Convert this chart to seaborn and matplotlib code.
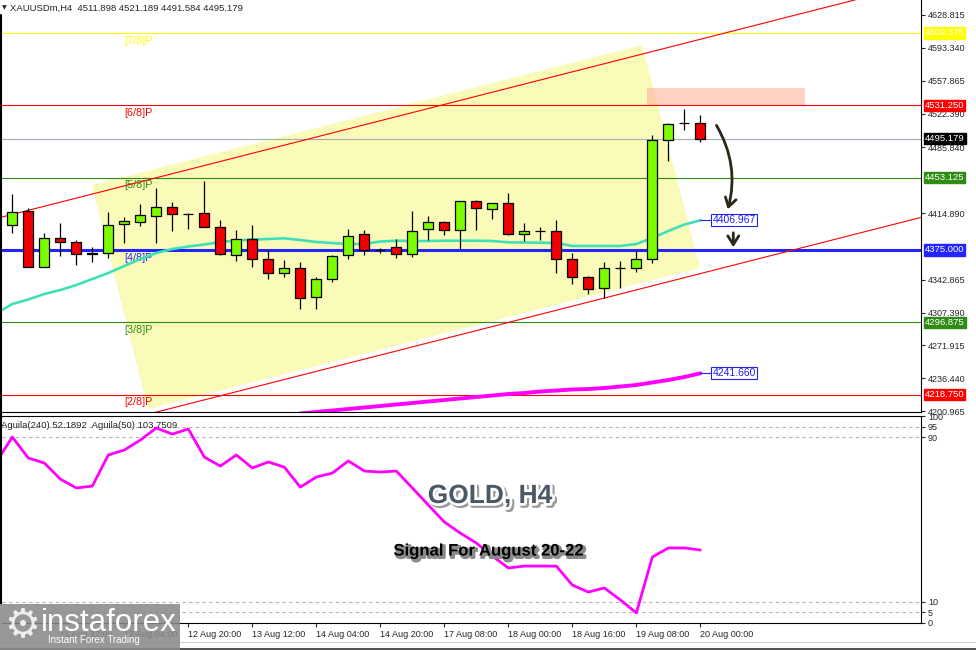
import numpy as np
import matplotlib
matplotlib.use("Agg")
import matplotlib.pyplot as plt
import matplotlib.patheffects as pe
from matplotlib.patches import Polygon, Rectangle, FancyArrowPatch
from matplotlib.lines import Line2D
import seaborn as sns

# ---- data (H4 bars, index 0 = 11 Aug 04:00 ... 43 = 20 Aug 00:00) ----
opens = [4401.93, 4417.06, 4356.88, 4387.56, 4383.24, 4371.60, 4371.35, 4402.69, 4405.50, 4411.98,
         4421.05, 4414.20, 4414.57, 4400.09, 4369.19, 4387.13, 4364.87, 4349.75, 4355.80, 4323.82,
         4343.26, 4369.19, 4391.88, 4375.40, 4378.49, 4370.27, 4397.28, 4404.85, 4396.20, 4427.54,
         4418.89, 4425.37, 4391.88, 4395.30, 4395.12, 4364.87, 4345.43, 4333.54, 4355.30, 4355.15,
         4364.87, 4493.44, 4511.90, 4511.898]
highs = [4435.42, 4420.30, 4393.61, 4403.77, 4385.72, 4377.84, 4415.65, 4410.90, 4424.62, 4441.58,
         4426.46, 4415.00, 4449.47, 4407.33, 4396.53, 4401.93, 4374.92, 4364.12, 4361.63, 4345.43,
         4369.50, 4397.28, 4396.20, 4377.41, 4386.48, 4417.06, 4411.65, 4406.25, 4427.80, 4428.94,
         4425.60, 4436.50, 4403.77, 4399.44, 4407.33, 4371.68, 4346.83, 4361.63, 4363.04, 4374.16,
         4499.17, 4511.81, 4526.93, 4521.189]
lows = [4393.29, 4356.55, 4356.55, 4368.76, 4358.71, 4362.28, 4365.95, 4382.81, 4400.85, 4382.16,
        4395.45, 4397.61, 4399.44, 4369.19, 4363.36, 4356.88, 4343.26, 4346.07, 4310.85, 4310.85,
        4340.67, 4364.87, 4369.84, 4371.35, 4366.60, 4367.68, 4385.72, 4391.45, 4375.68, 4396.53,
        4408.41, 4390.80, 4384.97, 4385.72, 4350.40, 4337.86, 4327.06, 4323.38, 4334.19, 4350.83,
        4361.20, 4471.08, 4504.57, 4491.584]
closes = [4416.30, 4356.88, 4387.56, 4383.24, 4370.27, 4371.10, 4401.93, 4406.25, 4412.73, 4421.05,
          4413.49, 4413.90, 4400.09, 4370.27, 4387.13, 4364.87, 4349.75, 4355.80, 4322.74, 4343.26,
          4368.76, 4390.37, 4375.24, 4375.00, 4370.27, 4395.77, 4404.85, 4396.20, 4427.54, 4419.97,
          4425.37, 4391.88, 4395.12, 4395.00, 4364.87, 4345.43, 4332.78, 4355.15, 4355.00, 4364.87,
          4493.76, 4510.73, 4511.60, 4495.179]

# fast moving average (bars -1..43)
ma_fast = [4306.5, 4316.58, 4321.44, 4327.38, 4331.70, 4337.11, 4343.59, 4350.07, 4357.63, 4365.20,
           4371.68, 4376.00, 4378.70, 4380.86, 4383.56, 4385.18, 4386.26, 4386.80, 4387.56, 4385.72,
           4383.56, 4382.48, 4381.40, 4381.40, 4384.10, 4384.97, 4384.64, 4384.64, 4384.97, 4384.97,
           4384.97, 4384.64, 4383.24, 4383.02, 4382.81, 4382.48, 4379.24, 4379.24, 4379.24, 4379.24,
           4381.40, 4387.88, 4395.45, 4402.47, 4406.967]
# slow moving average (bars 18..43)
ma_slow = [4198.27, 4199.90, 4201.52, 4203.14, 4204.76, 4206.38, 4208.00, 4209.62, 4211.24, 4212.86,
           4214.48, 4216.10, 4217.72, 4219.34, 4220.42, 4222.04, 4223.12, 4224.20, 4224.74, 4225.82,
           4227.44, 4229.07, 4231.77, 4234.47, 4237.71, 4241.66]

# oscillator (bars -1..43)
aguila = [77.9, 90.0, 79.8, 77.4, 69.6, 65.3, 66.2, 81.3, 83.7, 88.5,
          94.4, 91.4, 93.9, 80.3, 75.9, 81.3, 75.0, 77.9, 75.4, 65.7,
          70.6, 72.5, 78.4, 73.5, 73.0, 73.5, 65.3, 57.0, 48.8, 43.4,
          38.6, 32.3, 26.5, 27.4, 27.4, 27.4, 18.2, 14.8, 16.8, 11.0,
          4.7, 31.8, 36.2, 36.2, 35.2]
aguila_levels = [95, 90, 10, 5]

# Murrey math levels
mm_levels = [4609.375, 4531.250, 4453.125, 4375.000, 4296.875, 4218.750]
mm_names = ["[7/8]P", "[6/8]P", "[5/8]P", "[4/8]P", "[3/8]P", "[2/8]P"]
last_price = 4495.179

# drawn objects (bar index, price)
channel_upper = ([-1, 60], [4408.98, 4677.40])
channel_lower = ([8.5, 60], [4197.60, 4424.24])
channel_box = [(4.98, 4445.15), (39.36, 4596.40), (42.98, 4355.47), (8.48, 4203.14)]
sell_zone = (39.67, 49.54, 4531.25, 4549.94)
arrow_1 = ((43.92, 4512.13), (44.67, 4415.97))
arrow_2 = ((45.06, 4396.53), (45.06, 4374.92))

price_ticks = [4628.815, 4593.340, 4557.865, 4522.390, 4485.840, 4414.890,
               4342.865, 4307.390, 4271.915, 4236.440, 4200.965]
time_tick_bars = [3, 7, 11, 15, 19, 23, 27, 31, 35, 39, 43]
time_tick_labels = ["11 Aug 12:00", "12 Aug 04:00", "12 Aug 20:00", "13 Aug 12:00", "14 Aug 04:00",
                    "14 Aug 20:00", "17 Aug 08:00", "18 Aug 00:00", "18 Aug 16:00", "19 Aug 08:00",
                    "20 Aug 00:00"]

# ---- style ----
sns.set_style("white")
plt.rcParams["font.family"] = ["Liberation Sans", "DejaVu Sans"]
mm_colors = ["#ffff00", "#ff0000", "#2e8b14", "#2424ff", "#2e8b14", "#ff0000"]
mm_widths = [0.8, 0.8, 0.8, 2.2, 0.8, 0.8]
FS = 6.5

fig = plt.figure(figsize=(9.76, 6.5), dpi=100)
ax = fig.add_axes([2 / 976, 1 - 412 / 650, 919 / 976, 412 / 650])
ax2 = fig.add_axes([2 / 976, 1 - 622.6 / 650, 919 / 976, 206.2 / 650])
xlim = (-0.644, 56.79)

# ---- main panel ----
ax.add_patch(Polygon(channel_box, closed=True, fc="#fafab9", ec="none", zorder=0.5))
x0, x1, y0, y1 = sell_zone
ax.add_patch(Rectangle((x0, y0), x1 - x0, y1 - y0, fc="#ffb09c", alpha=0.58, ec="none", zorder=0.6))

for lvl, name, col, lw in zip(mm_levels, mm_names, mm_colors, mm_widths):
    ax.axhline(lvl, color=col, lw=lw, zorder=1)
    ax.annotate(name, (7.0, lvl), xytext=(0, -2), textcoords="offset points",
                ha="left", va="top", fontsize=7.8, color=col, zorder=1)
ax.axhline(last_price, color="#a3adb8", lw=0.8, zorder=1)

ax.plot(*channel_upper, color="#ff0000", lw=0.8, zorder=1.5)
ax.plot(*channel_lower, color="#ff0000", lw=0.8, zorder=1.5)

sns.lineplot(x=np.arange(-1, 44), y=ma_fast, ax=ax, color="#3fe0b8", linewidth=1.9, zorder=2)
sns.lineplot(x=np.arange(18, 44), y=ma_slow, ax=ax, color="#ff00ff", linewidth=2.8, zorder=2)

o, h, l, c = map(np.array, (opens, highs, lows, closes))
idx = np.arange(len(o))
ax.vlines(idx, l, h, color="black", lw=0.9, zorder=3)
body_col = np.where(c > o + 0.5, "#7cfc00", np.where(c < o - 0.5, "#f00000", "black"))
ax.bar(idx, np.abs(c - o), bottom=np.minimum(o, c), width=0.62, color=body_col,
       edgecolor="black", linewidth=0.9, zorder=4)

# moving average value tags
for val, bar in ((ma_fast[-1], 43), (ma_slow[-1], 43)):
    ax.plot([bar, bar + 0.75], [val, val], color="#2222ee", lw=0.8, zorder=5)
    ax.text(bar + 0.75, val, f"{val:.3f}", ha="left", va="center", fontsize=7.5, color="#2222ee",
            bbox=dict(boxstyle="square,pad=0.1", fc="white", ec="#2222ee", lw=0.8), zorder=6)

for (p0, p1), rad in ((arrow_1, -0.22), (arrow_2, 0.0)):
    ax.add_patch(FancyArrowPatch(p0, p1, connectionstyle=f"arc3,rad={rad}",
                                 arrowstyle="->,head_length=0.35,head_width=0.22",
                                 mutation_scale=18, color="#2a2719", lw=2.0, zorder=6))

ax.set_xlim(*xlim)
ax.set_ylim(4199.9, 4645.02)
ax.set_xticks([])
ax.yaxis.tick_right()
ax.set_yticks(price_ticks)
ax.set_yticklabels([f"{t:.3f}" for t in price_ticks])
ax.tick_params(axis="y", direction="out", length=3, width=0.8, pad=2, labelsize=FS, right=True, left=False)
for side in ("left", "top"):
    ax.spines[side].set_visible(False)
for side in ("right", "bottom"):
    ax.spines[side].set_color("black")
    ax.spines[side].set_linewidth(0.8)

# price tags on the right axis
tags = [(4609.375, "#ffff00"), (4531.250, "#ff0000"), (last_price, "#000000"), (4453.125, "#2e8b14"),
        (4375.000, "#2424ff"), (4296.875, "#2e8b14"), (4218.750, "#ff0000")]
for val, bg in tags:
    ax.text(1.004, val, f"{val:.3f}", transform=ax.get_yaxis_transform(), ha="left", va="center",
            fontsize=FS + 0.3, color="white", clip_on=False, zorder=10,
            bbox=dict(boxstyle="square,pad=0.12", fc=bg, ec=bg))

# ---- oscillator panel ----
for lvl in aguila_levels:
    ax2.axhline(lvl, color="#b4b4b4", lw=0.8, ls=(0, (3, 3)), zorder=1)
sns.lineplot(x=np.arange(-1, 44), y=aguila, ax=ax2, color="#ff00ff", linewidth=2.0, zorder=2)
ax2.set_xlim(*xlim)
ax2.set_ylim(0, 100)
ax2.set_xlabel("")
ax2.set_ylabel("")
ax2.yaxis.tick_right()
ax2.set_yticks([0, 5, 10, 90, 95, 100])
ax2.set_yticklabels(["0", "5", "10", "90", "95", "100"])
ax2.tick_params(axis="y", direction="out", length=3, width=0.8, pad=2, labelsize=FS, right=True, left=False)
ax2.set_xticks(time_tick_bars)
ax2.set_xticklabels(time_tick_labels, ha="left")
ax2.tick_params(axis="x", direction="out", length=3, width=0.8, pad=2, labelsize=FS, bottom=True)
ax2.spines["left"].set_visible(False)
for side in ("right", "top", "bottom"):
    ax2.spines[side].set_color("black")
    ax2.spines[side].set_linewidth(0.8)

# ---- overlay texts ----
fig.text(2 / 976, 1 - 8 / 650, "\u25bc", fontsize=4.5, va="center", family=["DejaVu Sans"])
fig.text(10 / 976, 1 - 8 / 650, "XAUUSDm,H4  4511.898 4521.189 4491.584 4495.179",
         fontsize=FS + 0.3, va="center")
fig.text(1 / 976, 1 - 425 / 650, "Aguila(240) 52.1892  Aguila(50) 103.7509", fontsize=FS + 0.3, va="center")

fig.text(490 / 976, 1 - 496 / 650, "GOLD, H4", ha="center", va="center", fontsize=19,
         fontweight="bold", color="#4b5966",
         path_effects=[pe.Stroke(offset=(1.5, -1.5), linewidth=4, foreground="#9a9a9a"),
                       pe.Stroke(linewidth=4, foreground="white"), pe.Normal()])
fig.text(488 / 976, 1 - 551 / 650, "Signal For August 20-22", ha="center", va="center", fontsize=12,
         fontweight="bold", color="black",
         path_effects=[pe.Stroke(offset=(1.5, -1.5), linewidth=2, foreground="#8a8a8a"), pe.Normal()])

# logo
fig.add_artist(Rectangle((0, 0), 180 / 976, 46 / 650, transform=fig.transFigure,
                         fc="#8a8a8a", ec="none", alpha=0.88, zorder=20))
fig.text(22 / 976, 1 - 626 / 650, "\u2699", ha="center", va="center", fontsize=29, color="#eeeeee",
         family=["DejaVu Sans"], zorder=21)
fig.text(41 / 976, 1 - 631 / 650, "instaforex", ha="left", va="baseline", fontsize=22.5,
         color="white", zorder=21)
fig.text(48 / 976, 1 - 640 / 650, "Instant Forex Trading", ha="left", va="center", fontsize=7,
         color="white", zorder=21)

# frame lines of the terminal window
fig.add_artist(Line2D([1 / 976, 1 / 976], [1 - 604 / 650, 1 - 15 / 650], transform=fig.transFigure,
                      color="black", lw=1.5, zorder=19))
fig.add_artist(Line2D([0, 1], [1 - 642 / 650] * 2, transform=fig.transFigure, color="#d0d0d0", lw=0.8))
fig.add_artist(Line2D([0, 1], [1 - 648.5 / 650] * 2, transform=fig.transFigure, color="#333333", lw=1.2))

fig.savefig("out.png", dpi=100)
